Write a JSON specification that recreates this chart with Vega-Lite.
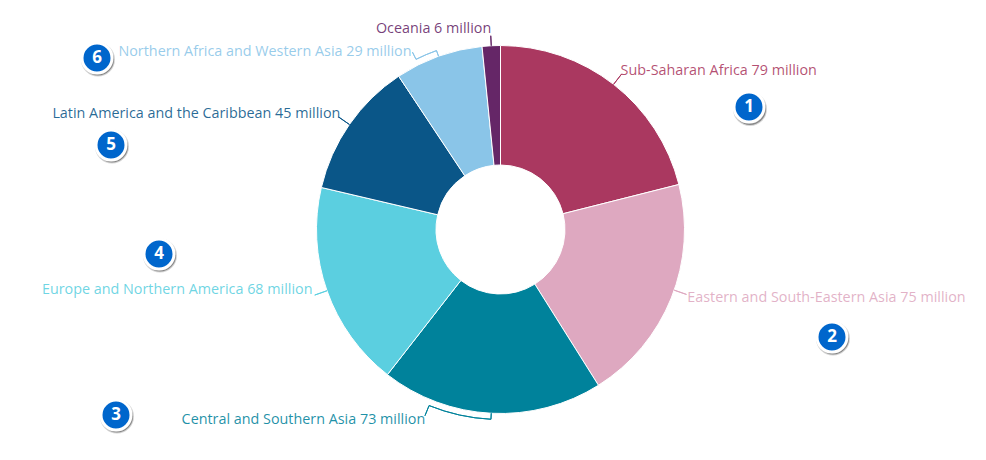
{"$schema":"https://vega.github.io/schema/vega-lite/v6.json","width":973,"height":459,"padding":{"left":14,"top":0,"right":0,"bottom":1},"autosize":{"type":"none"},"background":"white","config":{"view":{"stroke":null}},
"datasets":{"regions":[{"rank":1,"region":"Sub-Saharan Africa","value":79,"label":"Sub-Saharan Africa 79 million"},{"rank":2,"region":"Eastern and South-Eastern Asia","value":75,"label":"Eastern and South-Eastern Asia 75 million"},{"rank":3,"region":"Central and Southern Asia","value":73,"label":"Central and Southern Asia 73 million"},{"rank":4,"region":"Europe and Northern America","value":68,"label":"Europe and Northern America 68 million"},{"rank":5,"region":"Latin America and the Caribbean","value":45,"label":"Latin America and the Caribbean 45 million"},{"rank":6,"region":"Northern Africa and Western Asia","value":29,"label":"Northern Africa and Western Asia 29 million"},{"rank":7,"region":"Oceania","value":6,"label":"Oceania 6 million"}],
"leaders":[{"region":"Sub-Saharan Africa","part":"long","from":39.5,"to":39.5},{"region":"Europe and Northern America","part":"long","from":261,"to":261},{"region":"Latin America and the Caribbean","part":"long","from":317.5,"to":317.5},{"region":"Oceania","part":"top","from":372,"to":372},{"region":"Eastern and South-Eastern Asia","part":"long","from":113.8,"to":113.8},{"region":"Central and Southern Asia","part":"short","from":190.5,"to":190.5},{"region":"Northern Africa and Western Asia","part":"short","from":354.5,"to":354.5},{"region":"Central and Southern Asia","part":"ring","from":190.5,"to":210.5},{"region":"Northern Africa and Western Asia","part":"ring","from":347.5,"to":354.5},{"region":"Northern Africa and Western Asia","part":"tail","from":347.5,"to":347.5},{"region":"Central and Southern Asia","part":"tailLong","from":210.5,"to":210.5}]},
"data":{"name":"regions"},
"encoding":{"theta":{"field":"value","type":"quantitative","stack":true,"scale":{"domain":[0,375],"nice":false,"zero":false}},"order":{"field":"rank","type":"quantitative"},"color":{"field":"region","type":"nominal","legend":null,"sort":null,"scale":{"domain":["Sub-Saharan Africa","Eastern and South-Eastern Asia","Central and Southern Asia","Europe and Northern America","Latin America and the Caribbean","Northern Africa and Western Asia","Oceania"],"range":["#AA3860","#DEA8C0","#00829B","#5BCFE0","#0A5688","#8AC5E8","#652667"]}}},
"layer":[
{"mark":{"type":"arc","outerRadius":184,"innerRadius":64.5,"stroke":"white","strokeWidth":1}},
{"data":{"name":"leaders"},"transform":[{"filter":"datum.part=='long'"}],"mark":{"type":"arc","radius":197,"radius2":184,"fillOpacity":0,"strokeWidth":1},"encoding":{"order":null,"color":null,"theta":{"field":"from","type":"quantitative"},"theta2":{"field":"to"},"stroke":{"field":"region","type":"nominal","legend":null,"scale":{"domain":["Sub-Saharan Africa","Eastern and South-Eastern Asia","Central and Southern Asia","Europe and Northern America","Latin America and the Caribbean","Northern Africa and Western Asia","Oceania"],"range":["#AA3860","#DEA8C0","#00829B","#5BCFE0","#0A5688","#8AC5E8","#652667"]}}}},
{"data":{"name":"leaders"},"transform":[{"filter":"datum.part=='top'"}],"mark":{"type":"arc","radius":194,"radius2":184,"fillOpacity":0,"strokeWidth":1},"encoding":{"order":null,"color":null,"theta":{"field":"from","type":"quantitative"},"theta2":{"field":"to"},"stroke":{"field":"region","type":"nominal","legend":null}}},
{"data":{"name":"leaders"},"transform":[{"filter":"datum.part=='short'"}],"mark":{"type":"arc","radius":190,"radius2":184,"fillOpacity":0,"strokeWidth":1},"encoding":{"order":null,"color":null,"theta":{"field":"from","type":"quantitative"},"theta2":{"field":"to"},"stroke":{"field":"region","type":"nominal","legend":null}}},
{"data":{"name":"leaders"},"transform":[{"filter":"datum.part=='ring'"}],"mark":{"type":"arc","radius":190,"radius2":190,"fillOpacity":0,"strokeWidth":1},"encoding":{"order":null,"color":null,"theta":{"field":"from","type":"quantitative"},"theta2":{"field":"to"},"stroke":{"field":"region","type":"nominal","legend":null}}},
{"data":{"name":"leaders"},"transform":[{"filter":"datum.part=='tail'"}],"mark":{"type":"arc","radius":198,"radius2":190,"fillOpacity":0,"strokeWidth":1},"encoding":{"order":null,"color":null,"theta":{"field":"from","type":"quantitative"},"theta2":{"field":"to"},"stroke":{"field":"region","type":"nominal","legend":null}}},
{"data":{"name":"leaders"},"transform":[{"filter":"datum.part=='tailLong'"}],"mark":{"type":"arc","radius":201,"radius2":190,"fillOpacity":0,"strokeWidth":1},"encoding":{"order":null,"color":null,"theta":{"field":"from","type":"quantitative"},"theta2":{"field":"to"},"stroke":{"field":"region","type":"nominal","legend":null}}},
{"mark":{"type":"text","radius":184,"align":"left","baseline":"middle","font":"Open Sans","fontSize":14.35,"fillOpacity":0.88,"dx":7,"dy":-13.5},"encoding":{"text":{"condition":{"test":"datum.rank==1","field":"label"},"value":""}}},
{"mark":{"type":"text","radius":184,"align":"left","baseline":"middle","font":"Open Sans","fontSize":14.35,"fillOpacity":0.88,"dx":16,"dy":0.5},"encoding":{"text":{"condition":{"test":"datum.rank==2","field":"label"},"value":""}}},
{"mark":{"type":"text","radius":184,"align":"right","baseline":"middle","font":"Open Sans","fontSize":14.35,"fillOpacity":0.88,"dx":-66,"dy":6.5},"encoding":{"text":{"condition":{"test":"datum.rank==3","field":"label"},"value":""}}},
{"mark":{"type":"text","radius":184,"align":"right","baseline":"middle","font":"Open Sans","fontSize":14.35,"fillOpacity":0.88,"dx":-14.5,"dy":-0.5},"encoding":{"text":{"condition":{"test":"datum.rank==4","field":"label"},"value":""}}},
{"mark":{"type":"text","radius":184,"align":"right","baseline":"middle","font":"Open Sans","fontSize":14.35,"fillOpacity":0.88,"dx":-9,"dy":-10.5},"encoding":{"text":{"condition":{"test":"datum.rank==5","field":"label"},"value":""}}},
{"mark":{"type":"text","radius":184,"align":"right","baseline":"middle","font":"Open Sans","fontSize":14.35,"fillOpacity":0.88,"dx":-27,"dy":-4.5},"encoding":{"text":{"condition":{"test":"datum.rank==6","field":"label"},"value":""}}},
{"mark":{"type":"text","radius":184,"align":"right","baseline":"middle","font":"Open Sans","fontSize":14.35,"fillOpacity":0.88,"dx":0,"dy":-16.5},"encoding":{"text":{"condition":{"test":"datum.rank==7","field":"label"},"value":""}}},

{"transform":[{"filter":"datum.rank==1"}],"mark":{"type":"point","filled":true,"shape":"circle","size":1024,"fill":"#555555","fillOpacity":0.6,"stroke":"#555555","strokeOpacity":0.25,"strokeWidth":2,"xOffset":249.5,"yOffset":-120.5},"encoding":{"theta":null,"color":null,"order":null}},
{"transform":[{"filter":"datum.rank==1"}],"mark":{"type":"point","filled":true,"shape":"circle","size":900,"fill":"#0066CC","stroke":"white","strokeWidth":3,"opacity":1,"xOffset":248.5,"yOffset":-122.5},"encoding":{"theta":null,"color":null,"order":null}},
{"transform":[{"filter":"datum.rank==1"}],"mark":{"type":"text","font":"Open Sans","fontWeight":"bold","fontSize":17,"fill":"white","baseline":"middle","xOffset":248.5,"yOffset":-122.5},"encoding":{"theta":null,"color":null,"order":null,"text":{"field":"rank"}}},
{"transform":[{"filter":"datum.rank==2"}],"mark":{"type":"point","filled":true,"shape":"circle","size":1024,"fill":"#555555","fillOpacity":0.6,"stroke":"#555555","strokeOpacity":0.25,"strokeWidth":2,"xOffset":332.5,"yOffset":109},"encoding":{"theta":null,"color":null,"order":null}},
{"transform":[{"filter":"datum.rank==2"}],"mark":{"type":"point","filled":true,"shape":"circle","size":900,"fill":"#0066CC","stroke":"white","strokeWidth":3,"opacity":1,"xOffset":331.5,"yOffset":107.5},"encoding":{"theta":null,"color":null,"order":null}},
{"transform":[{"filter":"datum.rank==2"}],"mark":{"type":"text","font":"Open Sans","fontWeight":"bold","fontSize":17,"fill":"white","baseline":"middle","xOffset":331.5,"yOffset":107.5},"encoding":{"theta":null,"color":null,"order":null,"text":{"field":"rank"}}},
{"transform":[{"filter":"datum.rank==3"}],"mark":{"type":"point","filled":true,"shape":"circle","size":1024,"fill":"#555555","fillOpacity":0.6,"stroke":"#555555","strokeOpacity":0.25,"strokeWidth":2,"xOffset":-383.5,"yOffset":187},"encoding":{"theta":null,"color":null,"order":null}},
{"transform":[{"filter":"datum.rank==3"}],"mark":{"type":"point","filled":true,"shape":"circle","size":900,"fill":"#0066CC","stroke":"white","strokeWidth":3,"opacity":1,"xOffset":-384.5,"yOffset":185.5},"encoding":{"theta":null,"color":null,"order":null}},
{"transform":[{"filter":"datum.rank==3"}],"mark":{"type":"text","font":"Open Sans","fontWeight":"bold","fontSize":17,"fill":"white","baseline":"middle","xOffset":-384.5,"yOffset":185.5},"encoding":{"theta":null,"color":null,"order":null,"text":{"field":"rank"}}},
{"transform":[{"filter":"datum.rank==4"}],"mark":{"type":"point","filled":true,"shape":"circle","size":1024,"fill":"#555555","fillOpacity":0.6,"stroke":"#555555","strokeOpacity":0.25,"strokeWidth":2,"xOffset":-340.5,"yOffset":26},"encoding":{"theta":null,"color":null,"order":null}},
{"transform":[{"filter":"datum.rank==4"}],"mark":{"type":"point","filled":true,"shape":"circle","size":900,"fill":"#0066CC","stroke":"white","strokeWidth":3,"opacity":1,"xOffset":-341.5,"yOffset":24.5},"encoding":{"theta":null,"color":null,"order":null}},
{"transform":[{"filter":"datum.rank==4"}],"mark":{"type":"text","font":"Open Sans","fontWeight":"bold","fontSize":17,"fill":"white","baseline":"middle","xOffset":-341.5,"yOffset":24.5},"encoding":{"theta":null,"color":null,"order":null,"text":{"field":"rank"}}},
{"transform":[{"filter":"datum.rank==5"}],"mark":{"type":"point","filled":true,"shape":"circle","size":1024,"fill":"#555555","fillOpacity":0.6,"stroke":"#555555","strokeOpacity":0.25,"strokeWidth":2,"xOffset":-388.5,"yOffset":-83},"encoding":{"theta":null,"color":null,"order":null}},
{"transform":[{"filter":"datum.rank==5"}],"mark":{"type":"point","filled":true,"shape":"circle","size":900,"fill":"#0066CC","stroke":"white","strokeWidth":3,"opacity":1,"xOffset":-389.5,"yOffset":-84.5},"encoding":{"theta":null,"color":null,"order":null}},
{"transform":[{"filter":"datum.rank==5"}],"mark":{"type":"text","font":"Open Sans","fontWeight":"bold","fontSize":17,"fill":"white","baseline":"middle","xOffset":-389.5,"yOffset":-84.5},"encoding":{"theta":null,"color":null,"order":null,"text":{"field":"rank"}}},
{"transform":[{"filter":"datum.rank==6"}],"mark":{"type":"point","filled":true,"shape":"circle","size":1024,"fill":"#555555","fillOpacity":0.6,"stroke":"#555555","strokeOpacity":0.25,"strokeWidth":2,"xOffset":-402.5,"yOffset":-170},"encoding":{"theta":null,"color":null,"order":null}},
{"transform":[{"filter":"datum.rank==6"}],"mark":{"type":"point","filled":true,"shape":"circle","size":900,"fill":"#0066CC","stroke":"white","strokeWidth":3,"opacity":1,"xOffset":-403.5,"yOffset":-171.5},"encoding":{"theta":null,"color":null,"order":null}},
{"transform":[{"filter":"datum.rank==6"}],"mark":{"type":"text","font":"Open Sans","fontWeight":"bold","fontSize":17,"fill":"white","baseline":"middle","xOffset":-403.5,"yOffset":-171.5},"encoding":{"theta":null,"color":null,"order":null,"text":{"field":"rank"}}}
]}
